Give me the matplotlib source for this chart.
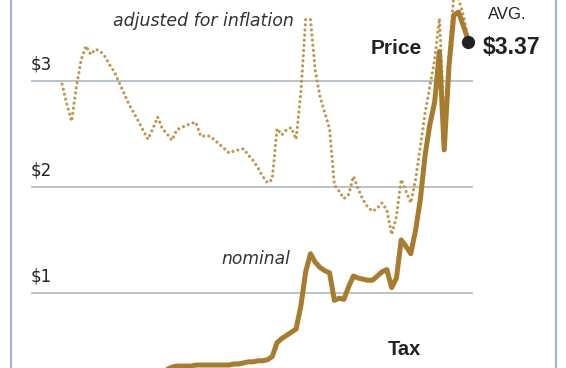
import matplotlib
matplotlib.use("Agg")
import matplotlib.pyplot as plt
from matplotlib.lines import Line2D

plt.rcParams["font.family"] = ["DejaVu Sans"]

# ---------------------------------------------------------------
# Gasoline price per gallon
# ---------------------------------------------------------------
real_years = list(range(1929, 2015))
real_price = [
    2.97, 2.78, 2.62, 2.95, 3.20, 3.33, 3.25, 3.30, 3.28, 3.23,   # 1929-38
    3.15, 3.08, 2.98, 2.88, 2.78, 2.70, 2.62, 2.53, 2.45, 2.55,   # 1939-48
    2.66, 2.55, 2.50, 2.44, 2.54, 2.56, 2.58, 2.60, 2.61, 2.48,   # 1949-58
    2.48, 2.48, 2.44, 2.40, 2.36, 2.32, 2.34, 2.35, 2.36, 2.30,   # 1959-68
    2.25, 2.18, 2.10, 2.04, 2.07, 2.55, 2.49, 2.54, 2.56, 2.45,   # 1969-78
    2.90, 3.58, 3.58, 3.10, 2.85, 2.70, 2.55, 2.02, 1.96, 1.89,   # 1979-88
    1.93, 2.10, 1.98, 1.88, 1.81, 1.77, 1.80, 1.85, 1.78, 1.55,   # 1989-98
    1.72, 2.07, 1.96, 1.85, 2.07, 2.38, 2.70, 2.95, 3.20, 3.59,   # 1999-2008
    2.60, 3.25, 3.80, 3.78, 3.62, 3.40,                           # 2009-14
]

nominal_years = list(range(1929, 2015))
nominal_price = [
    0.21, 0.20, 0.17, 0.18, 0.18, 0.19, 0.19, 0.19, 0.20, 0.20,   # 1929-38
    0.19, 0.18, 0.19, 0.20, 0.21, 0.21, 0.21, 0.21, 0.23, 0.26,   # 1939-48
    0.27, 0.27, 0.28, 0.30, 0.31, 0.31, 0.31, 0.31, 0.32, 0.32,   # 1949-58
    0.32, 0.32, 0.32, 0.32, 0.32, 0.32, 0.33, 0.33, 0.34, 0.35,   # 1959-68
    0.35, 0.36, 0.36, 0.37, 0.40, 0.53, 0.57, 0.60, 0.63, 0.66,   # 1969-78
    0.88, 1.20, 1.37, 1.29, 1.24, 1.21, 1.19, 0.93, 0.95, 0.94,   # 1979-88
    1.06, 1.16, 1.14, 1.13, 1.12, 1.12, 1.16, 1.20, 1.22, 1.05,   # 1989-98
    1.14, 1.50, 1.44, 1.37, 1.59, 1.88, 2.30, 2.59, 2.80, 3.28,   # 1999-2008
    2.35, 3.14, 3.62, 3.65, 3.52, 3.39,                           # 2009-14
]

latest_year = 2014
latest_price = 3.37
gridlines = [1, 2, 3]
grid_labels = ["$1", "$2", "$3"]

gold = "#a77c2f"
dots = "#c19650"
ink = "#222222"
bold_font = ["Liberation Sans", "DejaVu Sans"]

fig = plt.figure(figsize=(5.66, 3.68), dpi=100)
ax = fig.add_axes([0, 0, 1, 1])
ax.set_xlim(1916.0, 2034.5)
ax.set_ylim(0.292, 3.764)
ax.axis("off")

# horizontal guides and their dollar labels
for val, lab in zip(gridlines, grid_labels):
    ax.axhline(val, xmin=32 / 566, xmax=472 / 566, color="#b5c3cd", lw=1.4, zorder=1)
    ax.annotate(lab, xy=(31 / 566, val), xycoords=("figure fraction", "data"),
                xytext=(0, 8.3), textcoords="offset points",
                ha="left", va="baseline", fontsize=12, color=ink)

# inflation-adjusted price (dotted) and nominal price (solid)
ax.plot(real_years, real_price, color=dots, lw=2.3,
        linestyle=(0, (0.01, 1.6)), dash_capstyle="round", zorder=2)
ax.plot(nominal_years, nominal_price, color=gold, lw=3.6,
        solid_joinstyle="round", solid_capstyle="round", zorder=3)
ax.plot([latest_year], [latest_price], "o", color=ink, ms=8.5, zorder=4)

# frame lines at the left and right edges
for xf in (10.5 / 566, 555.5 / 566):
    fig.add_artist(Line2D([xf, xf], [0, 1], transform=fig.transFigure,
                          color="#a9b4d4", lw=1.6))

# labels
def label(x, y, s, **kw):
    fig.text(x / 566, 1 - y / 368, s, ha="center", va="baseline", **kw)

label(203, 25.5, "adjusted for inflation", style="italic", fontsize=12.5, color="#333333")
label(256, 264, "nominal", style="italic", fontsize=12.3, color="#333333")
label(396, 53.5, "Price", fontweight="bold", fontsize=15, color=ink, family=bold_font)
label(404, 355, "Tax", fontweight="bold", fontsize=14.5, color=ink, family=bold_font)
label(507, 19.3, "AVG.", fontsize=12, color=ink, family=bold_font)
label(512, 54, "$3.37", fontweight="bold", fontsize=16.5, color=ink, family=bold_font)

fig.savefig("out.png", dpi=100)
